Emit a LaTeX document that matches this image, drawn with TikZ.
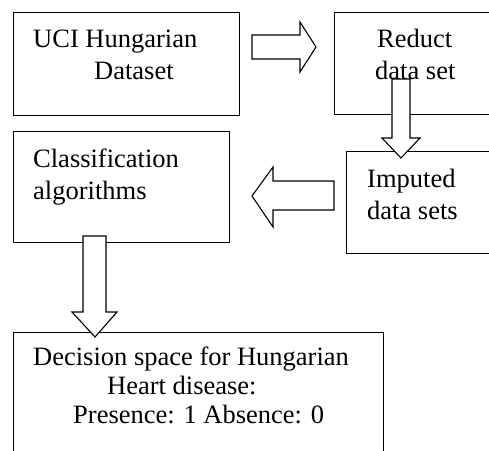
\documentclass[tikz,border=0pt]{standalone}
\usepackage{fontspec}
\setmainfont{Liberation Serif}
\begin{document}
\begin{tikzpicture}[x=1pt,y=-1pt,
  box/.style={draw,line width=1.1pt,rectangle,inner sep=0pt,anchor=north west},
  txt/.style={inner sep=0pt,anchor=base west,font=\fontsize{26.5}{32}\selectfont},
  txtb/.style={inner sep=0pt,anchor=base west,font=\fontsize{26.5}{29}\selectfont},
  blockarrow/.style={draw,fill=white,line width=1.1pt,line join=miter}]
\clip (0,0) rectangle (489,450);
% boxes
\node[box,minimum width=226pt,minimum height=103pt] (uci) at (13,12) {};
\node[box,minimum width=161pt,minimum height=102pt] (reduct) at (334,12) {};
\node[box,minimum width=216pt,minimum height=111pt] (class) at (13,131) {};
\node[box,minimum width=149pt,minimum height=102pt] (imputed) at (346,151) {};
\node[box,minimum width=370pt,minimum height=128pt] (decision) at (13,332) {};
% texts
\node[txt] (ucitext) at (33,47) {\begin{tabular}[t]{@{}l@{}}UCI Hungarian\\\hspace*{61pt}Dataset\end{tabular}};
\node[txt] (reducttext) at (375,47) {\begin{tabular}[t]{@{}l@{}}\hspace*{2pt}Reduct\\data set\end{tabular}};
\node[txt] (classtext) at (33,167) {\begin{tabular}[t]{@{}l@{}}Classification\\algorithms\end{tabular}};
\node[txt] (imputedtext) at (367,187) {\begin{tabular}[t]{@{}l@{}}Imputed\\data sets\end{tabular}};
\node[txtb] (decisiontext) at (33,365) {\begin{tabular}[t]{@{}l@{}}Decision space for Hungarian\\\hspace*{74pt}Heart disease:\\\hspace*{40pt}Presence: 1 Absence: 0\end{tabular}};
% block arrows
\draw[blockarrow] (252,35) -- (300,35) -- (300,22) -- (316,47) -- (300,72) -- (300,59) -- (252,59) -- cycle;
\draw[blockarrow] (392,79) -- (410,79) -- (410,138) -- (420,138) -- (401,158) -- (382,138) -- (392,138) -- cycle;
\draw[blockarrow] (334,181) -- (273,181) -- (273,167) -- (252,196) -- (273,227) -- (273,210) -- (334,210) -- cycle;
\draw[blockarrow] (83,236) -- (106,236) -- (106,312) -- (117,312) -- (95,337) -- (72,312) -- (83,312) -- cycle;
\end{tikzpicture}
\end{document}
